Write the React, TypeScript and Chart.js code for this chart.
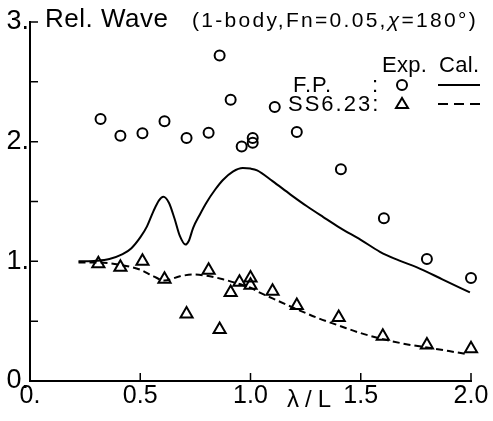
import React, { useEffect, useRef } from 'react';
import { Chart, registerables } from 'chart.js';
Chart.register(...registerables);

// Experimental points
const fpExpX = [0.32, 0.41, 0.51, 0.61, 0.71, 0.81, 0.86, 0.91, 0.96, 1.01, 1.01, 1.11, 1.21, 1.41, 1.605, 1.8, 2.0];
const fpExpY = [2.19, 2.05, 2.07, 2.17, 2.03, 2.075, 2.72, 2.35, 1.96, 2.03, 1.99, 2.29, 2.08, 1.77, 1.36, 1.02, 0.86];
const ssExpX = [0.31, 0.41, 0.51, 0.61, 0.71, 0.81, 0.86, 0.91, 0.95, 1.0, 1.0, 1.1, 1.21, 1.4, 1.6, 1.8, 2.0];
const ssExpY = [0.98, 0.95, 1.0, 0.85, 0.56, 0.925, 0.43, 0.74, 0.825, 0.86, 0.8, 0.75, 0.63, 0.53, 0.375, 0.3, 0.27];

// Calculated curves
const fpCalX = [0.22, 0.3, 0.36, 0.42, 0.46, 0.5, 0.53, 0.56, 0.585, 0.605, 0.63, 0.655, 0.68, 0.705, 0.72, 0.74, 0.77, 0.8, 0.84, 0.875, 0.92, 0.965, 1.0, 1.03, 1.1, 1.18, 1.256, 1.33, 1.406, 1.5, 1.587, 1.67, 1.755, 1.87, 1.995];
const fpCalY = [1.0, 1.005, 1.02, 1.06, 1.11, 1.2, 1.29, 1.42, 1.51, 1.54, 1.49, 1.36, 1.21, 1.14, 1.17, 1.28, 1.39, 1.49, 1.6, 1.68, 1.75, 1.78, 1.775, 1.76, 1.67, 1.56, 1.46, 1.37, 1.28, 1.18, 1.08, 1.01, 0.95, 0.85, 0.74];
const ssCalX = [0.22, 0.31, 0.41, 0.5, 0.56, 0.61, 0.68, 0.74, 0.8, 0.875, 0.95, 1.0, 1.04, 1.1, 1.21, 1.3, 1.406, 1.5, 1.6, 1.7, 1.8, 1.9, 1.98];
const ssCalY = [0.99, 0.99, 0.97, 0.93, 0.875, 0.84, 0.875, 0.89, 0.88, 0.85, 0.81, 0.78, 0.74, 0.69, 0.6, 0.53, 0.46, 0.4, 0.35, 0.31, 0.28, 0.25, 0.225];

// Tick labels
const xTickLabels = ['0.', '0.5', '1.0', '1.5', '2.0'];
const yTickLabels = ['0.', '1.', '2.', '3.'];

const zip = (xs: number[], ys: number[]) => xs.map((x, i) => ({ x, y: ys[i] }));

const inwardTicks = {
  id: 'inwardTicks',
  afterDraw(chart: any) {
    const { ctx, chartArea, scales } = chart;
    ctx.save();
    ctx.strokeStyle = '#000';
    ctx.lineWidth = 1.5;
    ctx.beginPath();
    scales.x.ticks.forEach((t: any) => {
      const px = scales.x.getPixelForValue(t.value);
      ctx.moveTo(px, chartArea.bottom);
      ctx.lineTo(px, chartArea.bottom - 8);
    });
    scales.y.ticks.forEach((t: any) => {
      const py = scales.y.getPixelForValue(t.value);
      ctx.moveTo(chartArea.left, py);
      ctx.lineTo(chartArea.left + 8, py);
    });
    ctx.stroke();
    ctx.restore();
  },
};

const FONT = "'Liberation Sans', Arial, sans-serif";

export default function App() {
  const ref = useRef<HTMLCanvasElement | null>(null);
  useEffect(() => {
    if (!ref.current) return;
    const chart = new Chart(ref.current, {
      type: 'scatter',
      data: {
        datasets: [
          {
            label: 'F.P. Cal.',
            data: zip(fpCalX, fpCalY),
            showLine: true,
            borderColor: '#000',
            borderWidth: 2,
            pointRadius: 0,
            cubicInterpolationMode: 'monotone',
            clip: false,
          },
          {
            label: 'SS6.23 Cal.',
            data: zip(ssCalX, ssCalY),
            showLine: true,
            borderColor: '#000',
            borderWidth: 2,
            borderDash: [7, 4],
            pointRadius: 0,
            cubicInterpolationMode: 'monotone',
            clip: false,
          },
          {
            label: 'F.P. Exp.',
            data: zip(fpExpX, fpExpY),
            pointStyle: 'circle',
            pointRadius: 5,
            borderColor: '#000',
            borderWidth: 2,
            backgroundColor: 'rgba(0,0,0,0)',
            clip: false,
          },
          {
            label: 'SS6.23 Exp.',
            data: zip(ssExpX, ssExpY),
            pointStyle: 'triangle',
            pointRadius: 7,
            borderColor: '#000',
            borderWidth: 2,
            backgroundColor: 'rgba(0,0,0,0)',
            clip: false,
          },
        ],
      } as any,
      options: {
        animation: false,
        responsive: false,
        devicePixelRatio: 1,
        layout: { padding: { top: 22, right: 22, left: 0, bottom: 0 } },
        plugins: { legend: { display: false }, tooltip: { enabled: false }, title: { display: false } },
        scales: {
          x: {
            type: 'linear',
            min: 0,
            max: 2,
            afterFit: (s: any) => { s.height = 40; },
            grid: { display: false, drawTicks: false },
            border: { display: true, color: '#000', width: 2 },
            ticks: {
              stepSize: 0.5,
              autoSkip: false,
              maxRotation: 0,
              padding: 0,
              color: '#000',
              font: { family: FONT, size: 25 },
              callback: (v: any) => xTickLabels[Math.round(Number(v) / 0.5)] ?? '',
            },
          },
          y: {
            type: 'linear',
            min: 0,
            max: 3,
            afterFit: (s: any) => { s.width = 30; },
            grid: { display: false, drawTicks: false },
            border: { display: true, color: '#000', width: 2 },
            ticks: {
              stepSize: 0.5,
              autoSkip: false,
              padding: 1,
              color: '#000',
              font: { family: FONT, size: 27 },
              callback: (v: any) => (Number.isInteger(Number(v)) ? yTickLabels[Number(v)] : ''),
            },
          },
        },
      } as any,
      plugins: [inwardTicks],
    });
    return () => chart.destroy();
  }, []);

  const txt = (left: number, top: number, size: number, ls: number, content: React.ReactNode) => (
    <div
      style={{
        position: 'absolute',
        left,
        top,
        fontFamily: FONT,
        fontSize: size,
        lineHeight: 1,
        letterSpacing: ls,
        whiteSpace: 'nowrap',
        color: '#000',
      }}
    >
      {content}
    </div>
  );

  return (
    <div style={{ position: 'absolute', left: 0, top: 0, width: 493, height: 421, background: '#fff' }}>
      <canvas ref={ref} width={493} height={421} style={{ position: 'absolute', left: 0, top: 0, width: 493, height: 421 }} />
      {txt(45, 5, 26, 0.5, 'Rel. Wave')}
      {txt(192, 9, 21, 2.3, <span>(1-body,Fn=0.05,<i>χ</i>=180°)</span>)}
      {txt(382, 54, 22, 0.3, 'Exp.')}
      {txt(439, 54, 22, 0.3, 'Cal.')}
      {txt(293, 74, 22, 1, 'F.P.')}
      {txt(372, 74, 22, 0, ':')}
      {txt(288, 93, 22, 2, 'SS6.23:')}
      {txt(287, 387, 24, 6, 'λ/L')}
      <svg width={493} height={421} style={{ position: 'absolute', left: 0, top: 0, pointerEvents: 'none' }}>
        <circle cx={402} cy={85} r={5} fill="none" stroke="#000" strokeWidth={2} />
        <polygon points="396,108 408,108 402,98" fill="none" stroke="#000" strokeWidth={2} />
        <line x1={438} y1={85} x2={480} y2={85} stroke="#000" strokeWidth={2} />
        <line x1={438} y1={104} x2={480} y2={104} stroke="#000" strokeWidth={2} strokeDasharray="10,6" />
      </svg>
    </div>
  );
}
